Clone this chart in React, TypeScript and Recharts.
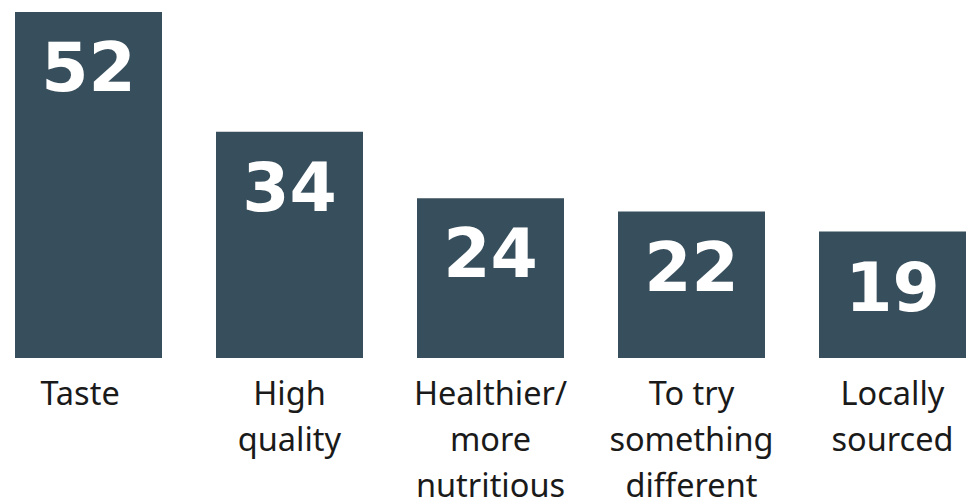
import React from "react";
import { BarChart, Bar, XAxis, YAxis, LabelList } from "recharts";

const categories = ["Taste", "High quality", "Healthier/ more nutritious", "To try something different", "Locally sourced"];
const categoryLines = [["Taste\u00a0\u00a0"], ["High", "quality"], ["Healthier/", "more", "nutritious"], ["To try", "something", "different"], ["Locally", "sourced"]];
const values = [52, 34, 24, 22, 19];

const data = categories.map((name, i) => ({ name, value: values[i], lines: categoryLines[i] }));

const BAR_COLOR = "#374e5c";

const CategoryTick = (props: any) => {
  const { x, y, index } = props;
  const lines = categoryLines[index] || [];
  return (
    <text
      x={x}
      y={y}
      textAnchor="middle"
      fill="#1a1a1a"
      style={{ fontFamily: "'Noto Sans', sans-serif", fontSize: 32.5 }}
    >
      {lines.map((l: string, i: number) => (
        <tspan key={i} x={x} y={y + 47 + i * 46}>
          {l}
        </tspan>
      ))}
    </text>
  );
};

const ValueLabel = (props: any) => {
  const { x, y, width, value } = props;
  return (
    <text
      x={x + width / 2}
      y={y + 79}
      textAnchor="middle"
      fill="#ffffff"
      style={{ fontFamily: "'DejaVu Sans', sans-serif", fontWeight: 700, fontSize: 68 }}
    >
      {value}
    </text>
  );
};

export default function App() {
  return (
    <div style={{ position: "fixed", left: 0, top: 0, width: 979, height: 497, overflow: "hidden", background: "#ffffff" }}>
      <div style={{ position: "absolute", left: -12, top: 0 }}>
        <BarChart width={1005} height={497} data={data} margin={{ top: 12, right: 0, left: 0, bottom: 0 }}>
          <XAxis
            dataKey="name"
            axisLine={false}
            tickLine={false}
            tickSize={0}
            tickMargin={0}
            height={139}
            interval={0}
            tick={<CategoryTick />}
          />
          <YAxis hide domain={[0, 52]} />
          <Bar dataKey="value" fill={BAR_COLOR} barSize={147} isAnimationActive={false}>
            <LabelList dataKey="value" content={<ValueLabel />} />
          </Bar>
        </BarChart>
      </div>
    </div>
  );
}
